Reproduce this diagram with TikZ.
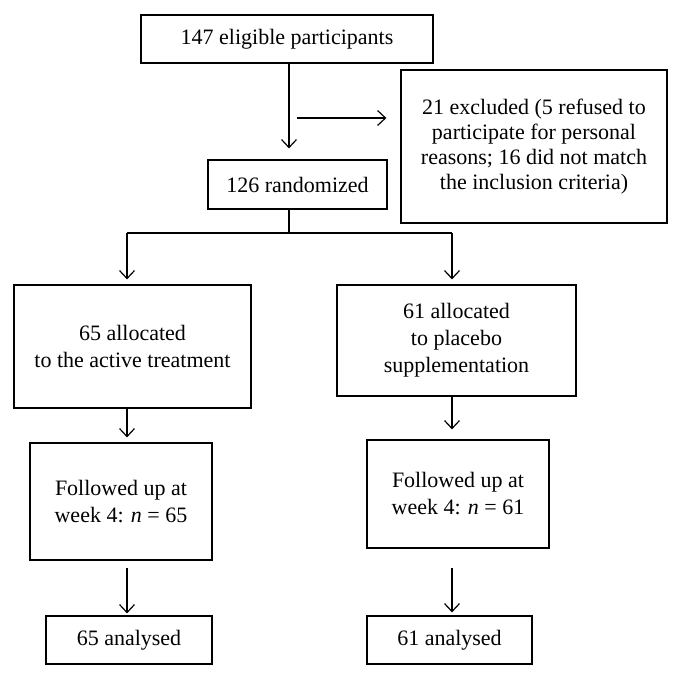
\documentclass[tikz,border=0pt]{standalone}
\usepackage{fontspec}
\setmainfont{Liberation Serif}
\usetikzlibrary{positioning}
\usetikzlibrary{arrows.meta}
\tikzset{
    mybox/.style = {rectangle, draw=black, line width=1.2pt, align=center, inner sep=0pt, font=\fontsize{22}{27}\selectfont, text=black},
    edgen/.style = {-, line width=1.2pt, black},
    edgea/.style = {-{Straight Barb[length=8pt,width=15pt]}, line width=1.2pt, black},
}

\begin{document}
\begin{tikzpicture}[x=1pt,y=-1pt]
\useasboundingbox (0,0) rectangle (681,678);
\node[mybox, minimum width=292pt, minimum height=48pt] at (287.0, 39.0) (elig) {147 eligible participants};
\node[mybox, minimum width=266pt, minimum height=153pt, font=\fontsize{22}{25}\selectfont] at (534.0, 146.5) (excl) {21 excluded (5 refused to\\participate for personal\\reasons; 16 did not match\\the inclusion criteria)};
\node[mybox, minimum width=179pt, minimum height=49pt] at (297.5, 184.5) (rand) {126 randomized};
\node[mybox, minimum width=237pt, minimum height=123pt] at (132.5, 346.5) (act) {65 allocated\\to the active treatment};
\node[mybox, minimum width=239pt, minimum height=111pt] at (456.5, 340.5) (plc) {61 allocated\\to placebo\\supplementation};
\node[mybox, minimum width=182pt, minimum height=117pt] at (121.0, 501.5) (fua) {Followed up at\\week 4: \textit{n} = 65};
\node[mybox, minimum width=182pt, minimum height=108pt] at (458.0, 494.0) (fup) {Followed up at\\week 4: \textit{n} = 61};
\node[mybox, minimum width=166pt, minimum height=48pt] at (129.0, 640.0) (ana) {65 analysed};
\node[mybox, minimum width=165pt, minimum height=48pt] at (449.5, 640.0) (anp) {61 analysed};

\coordinate (side) at (297.0, 118.0);
\coordinate (split) at (289.0, 233.0);
\coordinate (colL) at (127.0, 233.0);
\coordinate (colR) at (452.0, 233.0);

\draw[edgea, shorten >=11pt] (split |- elig.south) -- (split |- rand.north);
\draw[edgea, shorten >=14pt] (side) -- (side -| excl.west);

\draw[edgen] (split |- rand.south) -- (split);
\draw[edgen] (colL) -- (colR);
\draw[edgea, shorten >=5pt] (colL) -- (colL |- act.north);
\draw[edgea, shorten >=5pt] (colR) -- (colR |- plc.north);

\draw[edgea, shorten >=5pt] (colL |- act.south) -- (colL |- fua.north);
\draw[edgea, shorten >=10pt] (colR |- plc.south) -- (colR |- fup.north);

\draw[edgea, shorten <=7pt, shorten >=2pt] (colL |- fua.south) -- (colL |- ana.north);
\draw[edgea, shorten <=19pt, shorten >=3pt] (colR |- fup.south) -- (colR |- anp.north);

\end{tikzpicture}
\end{document}
